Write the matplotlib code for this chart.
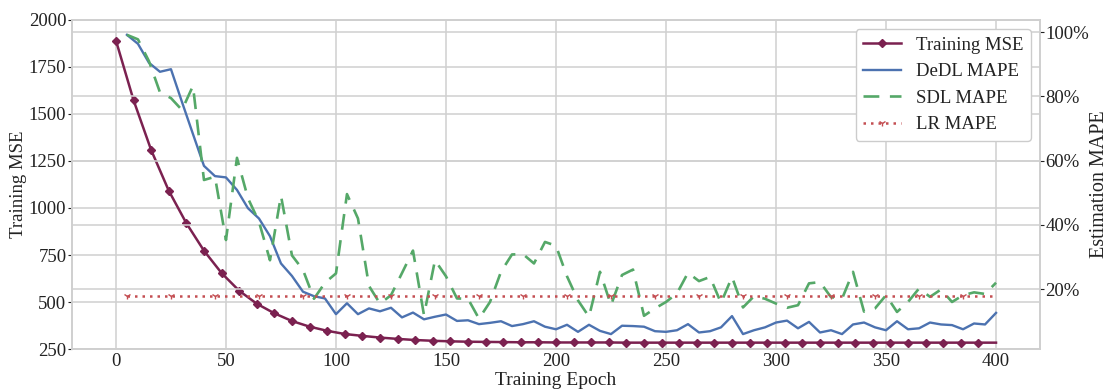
import matplotlib
matplotlib.use("Agg")
import matplotlib.pyplot as plt
from matplotlib.ticker import PercentFormatter

plt.rcParams["font.family"] = ["Liberation Serif", "DejaVu Serif"]

# training MSE, read every 8 epochs (last point at 400)
mse_epochs = list(range(0, 400, 8)) + [400]
mse = [1890, 1573, 1308, 1092, 919, 773, 654, 560, 491, 440,
       399, 369, 347, 330, 320, 311, 304, 298, 294, 291,
       289, 288, 287, 286, 286, 285, 285, 285, 285, 284,
       284, 284, 284, 284, 284, 284, 284, 284, 284, 284,
       284, 284, 284, 284, 284, 284, 284, 284, 284, 284, 284]

# MAPE curves, every 5 epochs starting at 5
mape_epochs = list(range(5, 401, 5))
dedl = [99.2, 96.4, 90.5, 87.7, 88.5, 78.3, 68.3, 58.4, 55.2, 54.8,
        50.9, 45.2, 42.0, 36.5, 28.0, 24.1, 19.2, 17.8, 17.1, 12.2,
        15.6, 12.2, 14.0, 13.1, 14.2, 11.2, 12.7, 10.6, 11.4, 12.1,
        10.1, 10.3, 9.1, 9.5, 10.0, 8.5, 9.1, 10.0, 8.3, 7.5,
        8.9, 6.7, 8.9, 7.0, 6.0, 8.6, 8.5, 8.3, 6.9, 6.7,
        7.2, 9.1, 6.5, 6.9, 8.1, 11.6, 6.0, 7.2, 8.1, 9.6,
        10.2, 7.8, 9.8, 6.5, 7.2, 6.0, 9.0, 9.6, 8.1, 7.2,
        10.0, 7.5, 7.8, 9.6, 9.0, 8.8, 7.5, 9.3, 9.0, 12.6]
sdl = [99.2, 97.8, 91.0, 81.3, 79.5, 75.8, 83.3, 54.0, 55.0, 35.3,
       60.9, 48.3, 41.0, 29.0, 49.1, 30.5, 26.0, 17.0, 22.0, 24.9,
       49.6, 42.0, 21.0, 15.5, 18.1, 25.0, 32.0, 11.9, 29.0, 24.0,
       17.1, 17.0, 10.8, 16.0, 25.4, 30.8, 30.9, 28.0, 34.7, 33.5,
       24.0, 16.5, 11.4, 25.4, 15.0, 24.4, 26.1, 11.7, 14.0, 16.0,
       18.7, 25.1, 22.5, 23.8, 15.7, 23.8, 14.3, 17.8, 17.0, 15.5,
       14.2, 15.0, 21.8, 22.2, 17.5, 17.0, 25.4, 13.0, 14.0, 18.1,
       12.9, 16.0, 20.2, 17.6, 19.9, 16.0, 18.1, 19.0, 18.5, 22.0]
lr_value = 17.8
lr = [lr_value] * len(mape_epochs)

c_mse = "#7b2150"
c_dedl = "#4c72b0"
c_sdl = "#55a868"
c_lr = "#c44e52"
grid_c = "#d0d0d0"

fig = plt.figure(figsize=(11.07, 3.9), dpi=100)
ax = fig.add_axes([0.065, 0.105, 0.8745, 0.844])
ax2 = ax.twinx()

l1, = ax.plot(mse_epochs, mse, color=c_mse, lw=1.8, marker="D", ms=4.5,
              markevery=list(range(len(mse) - 1)), label="Training MSE")
l2, = ax2.plot(mape_epochs, dedl, color=c_dedl, lw=1.7, label="DeDL MAPE")
l3, = ax2.plot(mape_epochs, sdl, color=c_sdl, lw=1.9, ls=(0, (6, 4)),
               label="SDL MAPE")
l4, = ax2.plot(mape_epochs, lr, color=c_lr, lw=1.8, ls=(0, (1, 2)),
               marker="1", ms=5, markevery=4, label="LR MAPE")

ax.set_ylim(250, 2000)
ax.set_yticks([250, 500, 750, 1000, 1250, 1500, 1750, 2000])
ax.set_xticks(range(0, 401, 50))
ax2.yaxis.set_major_formatter(PercentFormatter(decimals=0))

for a in (ax, ax2):
    a.grid(True, color=grid_c, lw=1.1)
    a.set_axisbelow(True)
    for s in a.spines.values():
        s.set_color("#cfcfcf")
        s.set_linewidth(1.2)
ax2.grid(False, axis="x")

ax.tick_params(axis="x", length=0, labelsize=13.5, colors="#222222", pad=3)
ax.tick_params(axis="y", length=3, width=0.8, labelsize=13.5, colors="#222222", pad=1)
ax2.tick_params(axis="y", length=3, width=0.8, labelsize=13.5, colors="#222222", pad=1)

ax.set_xlabel("Training Epoch", fontsize=14, color="#222222", labelpad=1)
ax.set_ylabel("Training MSE", fontsize=13.5, color="#222222")
ax2.set_ylabel("Estimation MAPE", fontsize=14.5, color="#222222")
ax.yaxis.set_label_coords(-0.046, 0.5)
ax2.yaxis.set_label_coords(1.0515, 0.5)

leg = ax2.legend(handles=[l1, l2, l3, l4], loc="upper right", fontsize=13.5,
                 frameon=True, fancybox=True, framealpha=1.0)
leg.get_frame().set_edgecolor("#cccccc")
for t in leg.get_texts():
    t.set_color("#222222")

fig.savefig("out.png", dpi=100, facecolor="white")
